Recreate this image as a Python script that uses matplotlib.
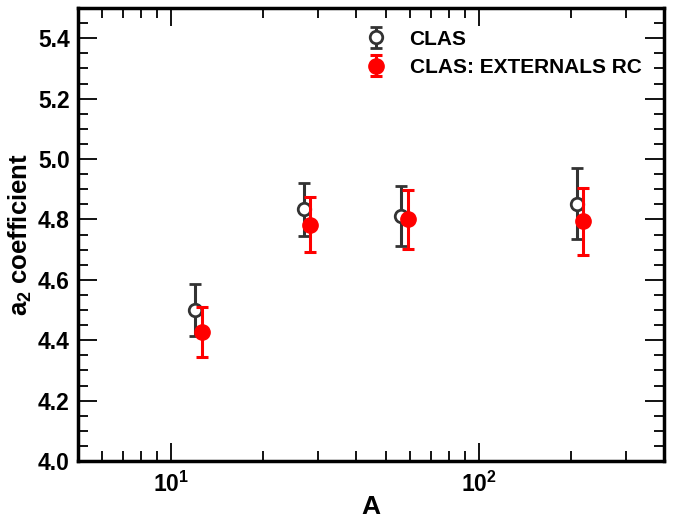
import matplotlib
matplotlib.use("Agg")
import matplotlib.pyplot as plt
from matplotlib.ticker import MultipleLocator, LogLocator, NullFormatter

# values
A_clas = [12, 27, 56, 208]
a2_clas = [4.50, 4.833, 4.811, 4.852]
err_clas = [0.087, 0.087, 0.100, 0.117]

A_ext = [12.6, 28.3, 58.8, 218]   # shifted slightly for visibility
a2_ext = [4.427, 4.783, 4.800, 4.794]
err_ext = [0.083, 0.090, 0.098, 0.111]

plt.rcParams['font.family'] = ['Liberation Sans', 'DejaVu Sans']
plt.rcParams['font.weight'] = 'bold'
plt.rcParams['axes.labelweight'] = 'bold'
plt.rcParams['mathtext.default'] = 'regular'

fig = plt.figure(figsize=(6.87, 5.19), dpi=100)
ax = fig.add_axes([78 / 687, 58 / 519, 586 / 687, 453 / 519])

ax.errorbar(A_clas, a2_clas, yerr=err_clas, fmt='o', color='#333333',
            mfc='white', mec='#333333', ms=9, mew=2, elinewidth=2.2,
            capsize=4.5, capthick=2.2, label='CLAS', zorder=2)
ax.errorbar(A_ext, a2_ext, yerr=err_ext, fmt='o', color='red',
            mfc='red', mec='red', ms=11, elinewidth=2.2,
            capsize=4.5, capthick=2.2, label='CLAS: EXTERNALS RC', zorder=3)

ax.set_xscale('log')
ax.set_xlim(5, 400)
ax.set_ylim(4.0, 5.5)

ax.yaxis.set_major_locator(MultipleLocator(0.2))
ax.yaxis.set_minor_locator(MultipleLocator(0.05))
ax.xaxis.set_major_locator(LogLocator(base=10))
ax.xaxis.set_minor_locator(LogLocator(base=10, subs=range(2, 10)))
ax.xaxis.set_minor_formatter(NullFormatter())

ax.tick_params(which='both', direction='in', top=True, right=True,
               width=1.3, labelsize=16.5)
ax.tick_params(which='major', length=14)
ax.tick_params(which='minor', length=7.5)
ax.tick_params(axis='x', which='major', length=13, pad=8)
ax.tick_params(axis='y', pad=6)
for s in ax.spines.values():
    s.set_linewidth(2.5)

ax.set_xlabel('A', fontsize=19, labelpad=-2)
ax.set_ylabel('a$_{2}$ coefficient', fontsize=18.5, labelpad=3)

ax.legend(loc='upper left', bbox_to_anchor=(347 / 687, 1 - 11 / 519),
          bbox_transform=fig.transFigure, frameon=False, fontsize=15,
          handlelength=1.0, handletextpad=1.1, labelspacing=0.45,
          borderpad=0.4)

fig.savefig('out.png', dpi=100)
